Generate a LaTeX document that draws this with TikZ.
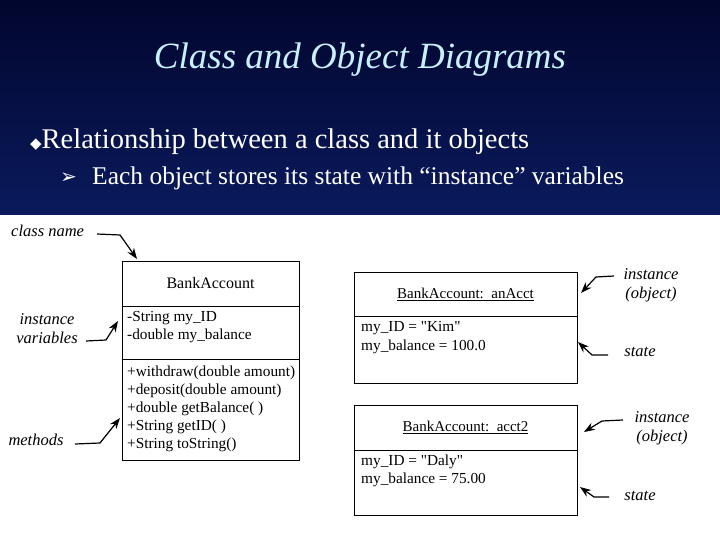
\documentclass[tikz,border=0pt]{standalone}
\usepackage{fontspec}
\setmainfont{Liberation Serif}
\newfontfamily\symf{DejaVu Sans}
\usetikzlibrary{arrows.meta}
\definecolor{navyA}{HTML}{02062E}
\definecolor{navyB}{HTML}{0A1A5C}
\definecolor{titlec}{HTML}{C8F0FF}
\tikzset{
  boxln/.style={draw=black,line width=0.9pt},
  txt/.style={anchor=west,inner sep=0pt,font=\fontsize{15.3}{17}\selectfont},
  lab/.style={inner sep=0pt,font=\fontsize{16.5}{19}\selectfont\itshape,align=center},
  pt/.style={-{Stealth[length=11pt,width=8pt]},line width=1.2pt},
}
\begin{document}
\begin{tikzpicture}[x=1pt,y=-1pt]
\useasboundingbox (0,0) rectangle (720,540);
\shade[top color=navyA,bottom color=navyB] (0,0) rectangle (720,215);
\fill[white] (0,215) rectangle (720,540);
\node (title) at (360,60) {\fontsize{37}{40}\selectfont\itshape\color{titlec}Class and Object Diagrams};
\node[anchor=west,inner sep=0pt] (b1) at (30,142) {\fontsize{28.5}{32}\selectfont\color{white}{\symf\fontsize{15}{16}\selectfont ◆}Relationship between a class and it objects};
\node[anchor=west,inner sep=0pt] (b2a) at (60,178) {\fontsize{20}{22}\selectfont\color{white}\symf ➢};
\node[anchor=west,inner sep=0pt] (b2) at (92,178) {\fontsize{25.5}{28}\selectfont\color{white}Each object stores its state with “instance” variables};
% class box
\draw[boxln] (122,261) rectangle (299,460);
\draw[boxln] (122,306) -- (299,306);
\draw[boxln] (122,359) -- (299,359);
\node (cn) at (210.5,283) {\fontsize{16}{18}\selectfont BankAccount};
\coordinate (cntop) at (137,259);
\node[txt] (v1) at (127,318) {-String my\_ID};
\node[txt] (v2) at (127,336) {-double my\_balance};
\node[txt] (m1) at (127,373) {+withdraw(double amount)};
\node[txt] (m2) at (127,391) {+deposit(double amount)};
\node[txt] (m3) at (127,409) {+double getBalance( )};
\node[txt] (m4) at (127,427) {+String getID( )};
\node[txt] (m5) at (127,445) {+String toString()};
% objects
\draw[boxln] (354,272) rectangle (577,383);
\draw[boxln] (354,316) -- (577,316);
\node (o1) at (465.5,294) {\fontsize{15}{17}\selectfont\underline{BankAccount:\ \ anAcct}};
\node[txt] (s1) at (361,328) {my\_ID = \textquotedbl Kim\textquotedbl};
\node[txt] (s2) at (361,347) {my\_balance = 100.0};
\draw[boxln] (354,405) rectangle (577,515);
\draw[boxln] (354,450) -- (577,450);
\node (o2) at (465.5,427) {\fontsize{15}{17}\selectfont\underline{BankAccount:\ \ acct2}};
\node[txt] (t1) at (361,462) {my\_ID = \textquotedbl Daly\textquotedbl};
\node[txt] (t2) at (361,480) {my\_balance = 75.00};
% labels
\node[lab,anchor=west] (lcn) at (11,231) {class name};
\node[lab] (liv) at (47,329) {instance\\variables};
\node[lab] (lme) at (36,440) {methods};
\node[lab] (li1) at (651,285) {instance\\(object)};
\node[lab] (ls1) at (640,352) {state};
\node[lab] (li2) at (662,428) {instance\\(object)};
\node[lab] (ls2) at (640,496) {state};
\coordinate (a1) at (118,321);
\coordinate (a2) at (120,418);
\coordinate (a3) at (581,293);
\coordinate (a4) at (578,342);
\coordinate (a5) at (584,432);
\coordinate (a6) at (580,487);
\draw[pt] (97,234) -- (120,235) -- (cntop);
\draw[pt] (86,341) -- (106,340) -- (a1);
\draw[pt] (75,444) -- (100,443) -- (a2);
\draw[pt] (614,276) -- (596,277) -- (a3);
\draw[pt] (608,355) -- (592,355) -- (a4);
\draw[pt] (623,420) -- (602,421) -- (a5);
\draw[pt] (609,497) -- (594,497) -- (a6);
\end{tikzpicture}
\end{document}
